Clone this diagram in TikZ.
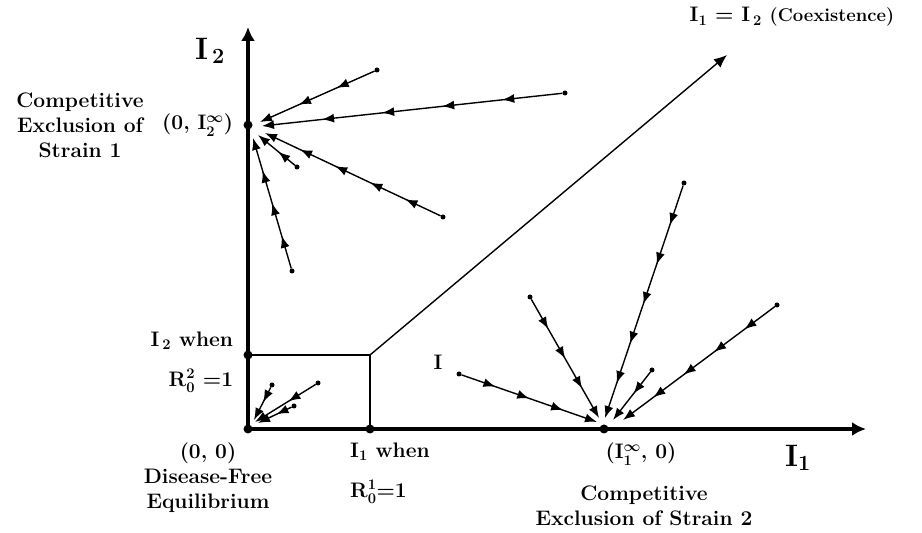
\RequirePackage{fix-cm}
\documentclass[tikz,border=0pt]{standalone}
\usepackage{fontspec}
\usetikzlibrary{positioning, arrows.meta, decorations.markings}

\begin{document}
\begin{tikzpicture}[>=latex, x=1pt, y=1pt, font=\bfseries\boldmath\fontsize{21}{25}\selectfont]

    \tikzstyle{axis} = [line width=3.5pt, -{Latex[length=14pt, width=14pt]}]
    \tikzstyle{eqpt} = [circle, fill, inner sep=0pt, minimum size=9pt]
    \tikzstyle{dot} = [circle, fill, inner sep=0pt, minimum size=5pt]
    \tikzstyle{lbl} = [align=center, inner sep=1pt]
    \tikzstyle{axlbl} = [font=\bfseries\boldmath\fontsize{31}{36}\selectfont]
    \tikzset{traj/.style={line width=1.4pt, -{Latex[length=12pt, width=9pt]}, postaction={decorate},
        decoration={markings, mark=between positions #1 and 0.88 step #1 with {\arrow{Latex[length=12pt, width=9pt]}}}}}

    \useasboundingbox (0,0) rectangle (922,533);

    % Equilibria
    \node[eqpt] (O) at (248,104) {};
    \node[eqpt] (E2) at (248,408) {};
    \node[eqpt] (E1) at (604,104) {};
    \node[eqpt] (R2) at (248,178) {};
    \node[eqpt] (R1) at (370,104) {};
    \coordinate (K) at (370,178);
    \coordinate (ytip) at (248,506);
    \coordinate (xtip) at (866,104);
    \coordinate (dtip) at (727,478);

    % Axes
    \draw[axis] (O.center) -- (ytip);
    \draw[axis] (O.center) -- (xtip);
    \node[axlbl] (ax2) at (210,482) {I$_{\,2}$};
    \node[axlbl] (ax1) at (798,75) {I$_1$};

    % Threshold box and coexistence line
    \draw[line width=1.4pt] (R2.center) -- (K) -- (R1.center);
    \draw[line width=1.4pt, -{Latex[length=13pt, width=11pt]}] (K) -- (dtip);
    \node[lbl] (coex) at (792,516) {I$_1$ = I$_{\,2}$ \fontsize{18.5}{22}\selectfont(Coexistence)};

    % Labels of the equilibria
    \node[lbl] (cs1) at (80,408) {Competitive\\Exclusion of\\Strain 1};
    \node[lbl, left=9pt of E2] (E2lbl) {(0, I$_2^\infty$)};
    \node[lbl, align=right, left=9pt of R2, yshift=-7pt] (R2lbl) {I$_{\,2}$ when\\[15pt]R$_0^2$ =1};
    \node[lbl, below=8pt of O, xshift=-40pt] (Olbl) {(0, 0)\\Disease-Free\\Equilibrium};
    \node[lbl, align=left, below=8pt of R1, xshift=20pt] (R1lbl) {I$_1$ when\\[15pt]R$_0^1$=1};
    \node[lbl, below=8pt of E1, xshift=37pt] (E1lbl) {(I$_1^\infty$, 0)};
    \node[lbl] (cs2) at (644,27) {Competitive\\Exclusion of Strain 2};
    \node[lbl] (stray) at (438,171) {I};

    % Trajectories towards (0, I2)
    \node[dot] (t1) at (377,463) {};
    \coordinate (t1e) at (260,411);
    \draw[traj=0.33] (t1) -- (t1e);
    \node[dot] (t2) at (565,440) {};
    \coordinate (t2e) at (262,407);
    \draw[traj=0.2] (t2) -- (t2e);
    \node[dot] (t3) at (443,316) {};
    \coordinate (t3e) at (265,400);
    \draw[traj=0.2] (t3) -- (t3e);
    \node[dot] (t4) at (297,366) {};
    \coordinate (t4e) at (258,398);
    \draw[traj=0.45] (t4) -- (t4e);
    \node[dot] (t5) at (292,262) {};
    \coordinate (t5e) at (253,395);
    \draw[traj=0.25] (t5) -- (t5e);

    % Trajectories towards (I1, 0)
    \node[dot] (u1) at (684,350) {};
    \coordinate (u1e) at (605,115);
    \draw[traj=0.17] (u1) -- (u1e);
    \node[dot] (u2) at (530,236) {};
    \coordinate (u2e) at (599,115);
    \draw[traj=0.25] (u2) -- (u2e);
    \node[dot] (u3) at (777,228) {};
    \coordinate (u3e) at (623,113);
    \draw[traj=0.2] (u3) -- (u3e);
    \node[dot] (u4) at (652,163) {};
    \coordinate (u4e) at (613,113);
    \draw[traj=0.45] (u4) -- (u4e);
    \node[dot] (u5) at (459,159) {};
    \coordinate (u5e) at (597,111);
    \draw[traj=0.25] (u5) -- (u5e);

    % Trajectories towards (0, 0)
    \node[dot] (v1) at (318,150) {};
    \coordinate (v1e) at (255,111);
    \draw[traj=0.45] (v1) -- (v1e);
    \node[dot] (v2) at (272,148) {};
    \coordinate (v2e) at (254,113);
    \draw[traj=0.45] (v2) -- (v2e);
    \node[dot] (v3) at (294,127) {};
    \coordinate (v3e) at (258,110);
    \draw[traj=0.45] (v3) -- (v3e);
\end{tikzpicture}
\end{document}
